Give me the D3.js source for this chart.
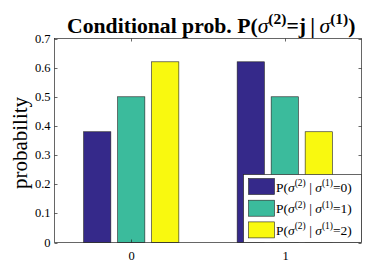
<!DOCTYPE html>
<html><head><meta charset="utf-8">
<script src="https://cdn.jsdelivr.net/npm/d3@7"></script>
<style>body{margin:0;background:#fff}svg{display:block}text{font-family:"Liberation Serif","Times New Roman",serif;fill:#000}</style>
</head><body>
<svg id="c" width="373" height="275"></svg>
<script>
const categories = ["0", "1"];
const seriesNames = ["0", "1", "2"];
const values0 = [0.38, 0.62];
const values1 = [0.50, 0.50];
const values2 = [0.62, 0.38];
const yTicks = [0, 0.1, 0.2, 0.3, 0.4, 0.5, 0.6, 0.7];
const colors = ["#35298a", "#3bbb9c", "#f9f90f"];
const seriesValues = [values0, values1, values2];

const svg = d3.select("#c");
const L = 54.5, R = 361.5, T = 38.5, B = 242.5;
const x = d3.scaleBand().domain(categories).range([L, R]).padding(0);
const xs = d3.scaleBand().domain(seriesNames).range([-51, 51]).paddingInner(0.2).paddingOuter(0.1);
const y = d3.scaleLinear().domain([0, 0.7]).range([B, T]);
const ax = "#262626";

// bars
categories.forEach((c, ci) => {
  seriesNames.forEach((s, si) => {
    const v = seriesValues[si][ci];
    svg.append("rect")
      .attr("x", x(c) + x.bandwidth() / 2 + xs(s))
      .attr("y", y(v))
      .attr("width", xs.bandwidth())
      .attr("height", y(0) - y(v))
      .attr("fill", colors[si])
      .attr("stroke", "#222")
      .attr("stroke-width", 0.6);
  });
});

// axes box
svg.append("rect").attr("x", L).attr("y", T).attr("width", R - L).attr("height", B - T)
  .attr("fill", "none").attr("stroke", ax).attr("stroke-width", 0.7);

// y ticks
const tl = 3;
yTicks.forEach(t => {
  const yy = Math.round(y(t)) + 0.5;
  svg.append("line").attr("x1", L).attr("x2", L + tl).attr("y1", yy).attr("y2", yy).attr("stroke", ax).attr("stroke-width", 0.7);
  svg.append("line").attr("x1", R).attr("x2", R - tl).attr("y1", yy).attr("y2", yy).attr("stroke", ax).attr("stroke-width", 0.7);
  svg.append("text").attr("x", L - 4).attr("y", y(t) + 4).attr("text-anchor", "end")
    .attr("font-size", 12.5).text(t === 0 ? "0" : d3.format(".1f")(t));
});
// x ticks
categories.forEach(c => {
  const xx = Math.round(x(c) + x.bandwidth() / 2) + 0.5;
  svg.append("line").attr("x1", xx).attr("x2", xx).attr("y1", B).attr("y2", B - tl).attr("stroke", ax).attr("stroke-width", 0.7);
  svg.append("line").attr("x1", xx).attr("x2", xx).attr("y1", T).attr("y2", T + tl).attr("stroke", ax).attr("stroke-width", 0.7);
  svg.append("text").attr("x", xx).attr("y", B + 17).attr("text-anchor", "middle").attr("font-size", 12.5).text(c);
});

// y label
svg.append("text").attr("transform", `translate(27,143) rotate(-90)`)
  .attr("text-anchor", "middle").attr("font-size", 21).text("probability");

// title
const title = svg.append("text").attr("x", 67).attr("y", 33).attr("text-anchor", "start")
  .attr("font-size", 21.7).attr("font-weight", "bold");
title.append("tspan").text("Conditional prob. P(");
title.append("tspan").attr("font-style", "italic").attr("font-weight", "normal").text("σ");
title.append("tspan").attr("font-size", 15.5).attr("dy", -9).text("(2)");
title.append("tspan").attr("dy", 9).text("=j\u2009|\u2009");
title.append("tspan").attr("font-style", "italic").attr("font-weight", "normal").text("σ");
title.append("tspan").attr("font-size", 15.5).attr("dy", -9).text("(1)");
title.append("tspan").attr("dy", 9).text(")");

// legend
const lg = svg.append("g");
lg.append("rect").attr("x", 243.5).attr("y", 174.5).attr("width", 118).attr("height", 68)
  .attr("fill", "#fff").attr("stroke", ax).attr("stroke-width", 0.7);
seriesNames.forEach((s, i) => {
  const ry = 178 + i * 21.7;
  lg.append("rect").attr("x", 248.5).attr("y", ry + 0.5).attr("width", 26).attr("height", 16)
    .attr("fill", colors[i]).attr("stroke", "#222").attr("stroke-width", 0.6);
  const t = lg.append("text").attr("x", 276).attr("y", ry + 13.5).attr("font-size", 13.5);
  t.append("tspan").text("P(");
  t.append("tspan").attr("font-style", "italic").text("σ");
  t.append("tspan").attr("font-size", 9.5).attr("dy", -5.5).text("(2)");
  t.append("tspan").attr("dy", 5.5).text(" | ");
  t.append("tspan").attr("font-style", "italic").text("σ");
  t.append("tspan").attr("font-size", 9.5).attr("dy", -5.5).text("(1)");
  t.append("tspan").attr("dy", 5.5).text("=" + s + ")");
});
</script>
</body></html>
